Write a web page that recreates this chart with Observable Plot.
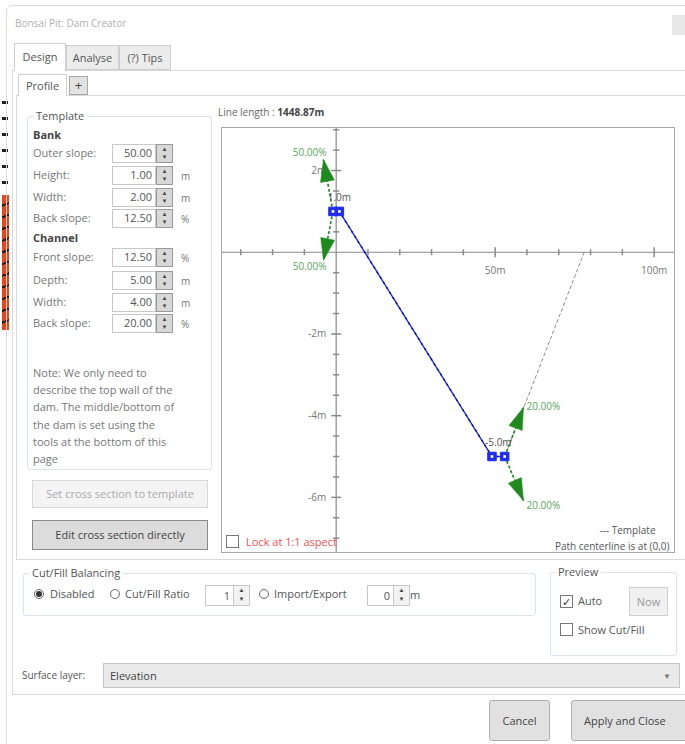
<!DOCTYPE html>
<html>
<head>
<meta charset="utf-8">
<script src="https://cdn.jsdelivr.net/npm/d3@7"></script>
<script src="https://cdn.jsdelivr.net/npm/@observablehq/plot@0.6"></script>
<style>
  html, body { margin:0; padding:0; background:#fff; }
  body { width:685px; height:744px; overflow:hidden; position:relative; font-family:"Open Sans","Noto Sans",sans-serif; font-size:11px; color:#555; }
  .abs { position:absolute; box-sizing:border-box; }
  .lbl { position:absolute; white-space:nowrap; line-height:14px; }
  .box { position:absolute; box-sizing:border-box; border:1px solid #c8c8c8; background:#fff; text-align:right; padding-right:3px; line-height:16px; color:#555; }
  .spin { position:absolute; box-sizing:border-box; border:1px solid #999; background:#d8d8d8; font-size:6px; line-height:8px; text-align:center; color:#444; }
  .fs { position:absolute; box-sizing:border-box; border:1px solid #dde3ea; border-radius:3px; }
  .legend { position:absolute; background:#fff; padding:0 3px; white-space:nowrap; line-height:14px; }
  .radio { position:absolute; width:10px; height:10px; border:1px solid #666; border-radius:50%; box-sizing:border-box; background:#fff; }
  .chk { position:absolute; width:13px; height:13px; border:1px solid #777; box-sizing:border-box; background:#fff; }
  .btn { position:absolute; box-sizing:border-box; border:1px solid #adadad; background:#e1e1e1; text-align:center; color:#444; }
</style>
</head>
<body>
<div id="root"></div>
<script>
// ---------------- data ----------------
const dialogTitle = "Bonsai Pit: Dam Creator";
const tabs = ["Design", "Analyse", "(?) Tips"];
const bankLabels = ["Outer slope:", "Height:", "Width:", "Back slope:"];
const bankValues = ["50.00", "1.00", "2.00", "12.50"];
const bankUnits = ["", "m", "m", "%"];
const channelLabels = ["Front slope:", "Depth:", "Width:", "Back slope:"];
const channelValues = ["12.50", "5.00", "4.00", "20.00"];
const channelUnits = ["%", "m", "m", "%"];
const noteLines = ["Note: We only need to", "describe the top wall of the", "dam. The middle/bottom of", "the dam is set using the", "tools at the bottom of this", "page"];
const lineLength = "1448.87m";

// cross-section profile (metres)
const pathX = [-1, 1, 49, 53];
const pathY = [1, 1, -5, -5];
const templateX = [53, 78];
const templateY = [-5, 0];
// slope handles
const handleX1 = [-1, -1, 53, 53];
const handleY1 = [1, 1, -5, -5];
const handleX2 = [-4, -4, 58.9, 58.9];
const handleY2 = [2.27, -0.2, -3.8, -6.08];
const handleText = ["50.00%", "50.00%", "20.00%", "20.00%"];
// point labels
const ptLabelX = [1, 51];
const ptLabelY = [1, -5];
const ptLabelText = ["1.0m", "-5.0m"];
// axes
const xTicks = [-30, -20, -10, 10, 20, 30, 40, 50, 60, 70, 80, 90, 100];
const xMajor = [50, 100];
const xTickLabels = ["50m", "100m"];
const yTicks = [-7, -6.5, -6, -5.5, -5, -4.5, -4, -3.5, -3, -2.5, -2, -1.5, -1, -0.5, 0.5, 1, 1.5, 2, 2.5, 3];
const yMajor = [2, -2, -4, -6];
const yTickLabels = ["2m", "-2m", "-4m", "-6m"];

// ---------------- dialog chrome ----------------
const root = document.getElementById("root");
function add(html){ root.insertAdjacentHTML("beforeend", html); }

// background app strip at left edge
add(`<div class="abs" style="left:2px;top:95px;width:6px;height:100px;background:repeating-linear-gradient(180deg,#fff 0 6px,#222 6px 9px,#fff 9px 16px);"></div>`);
add(`<div class="abs" style="left:2px;top:195px;width:7px;height:135px;background:repeating-linear-gradient(160deg,#e8451d 0 9px,#2a1a14 9px 11px);"></div>`);

// dialog frame
add(`<div class="abs" style="left:6px;top:5px;width:700px;height:760px;border:1px solid #dcdcdc;border-radius:6px 0 0 0;"></div>`);
add(`<div class="lbl" style="left:15px;top:16px;color:#b0b0b0;font-size:10px;">${dialogTitle}</div>`);
add(`<div class="abs" style="left:672px;top:15px;width:14px;height:20px;background:#e8e8e8;"></div>`);

// tab panel
add(`<div class="abs" style="left:12px;top:70px;width:690px;height:625px;border:1px solid #d9d9d9;"></div>`);
const tabLeft = [14, 66, 119], tabW = [52, 53, 52];
tabs.forEach((t,i)=>{
  const active = i===0;
  add(`<div class="abs" style="left:${tabLeft[i]}px;top:${active?43:45}px;width:${tabW[i]}px;height:${active?28:25}px;border:1px solid #cfcfcf;${active?'border-bottom:none;background:#fff;':'background:#ececec;'}text-align:center;line-height:${active?26:24}px;color:#555;">${t}</div>`);
});
// sub tabs
add(`<div class="abs" style="left:16px;top:95px;width:690px;height:465px;border:1px solid #d9d9d9;"></div>`);
add(`<div class="abs" style="left:18px;top:74px;width:49px;height:22px;border:1px solid #cfcfcf;border-bottom:none;background:#fff;text-align:center;line-height:21px;">Profile</div>`);
add(`<div class="abs" style="left:69px;top:76px;width:19px;height:19px;border:1px solid #a8a8a8;background:#e2e2e2;text-align:center;line-height:16px;font-size:13px;color:#444;">+</div>`);

// template group
add(`<div class="fs" style="left:27px;top:116px;width:185px;height:354px;"></div>`);
add(`<div class="legend" style="left:33px;top:109px;">Template</div>`);
add(`<div class="lbl" style="left:33px;top:128px;font-weight:bold;color:#444;">Bank</div>`);
add(`<div class="lbl" style="left:33px;top:231px;font-weight:bold;color:#444;">Channel</div>`);
function spinRow(label, value, unit, y){
  add(`<div class="lbl" style="left:33px;top:${y-7}px;color:#777;">${label}</div>`);
  add(`<div class="box" style="left:112px;top:${y-9}px;width:44px;height:19px;">${value}</div>`);
  add(`<div class="spin" style="left:156px;top:${y-9}px;width:17px;height:19px;">▲<br>▼</div>`);
  if (unit) add(`<div class="lbl" style="left:181px;top:${y-6}px;color:#777;font-size:10px;">${unit}</div>`);
}
const bankY = [153, 175, 197, 218];
const chanY = [257, 280, 302, 323];
bankLabels.forEach((l,i)=>spinRow(l, bankValues[i], bankUnits[i], bankY[i]));
channelLabels.forEach((l,i)=>spinRow(l, channelValues[i], channelUnits[i], chanY[i]));
noteLines.forEach((l,i)=>add(`<div class="lbl" style="left:33px;top:${366+i*17.2}px;color:#777;">${l}</div>`));

add(`<div class="btn" style="left:32px;top:480px;width:176px;height:28px;line-height:26px;background:#f4f4f4;border-color:#d8d8d8;color:#aaa;">Set cross section to template</div>`);
add(`<div class="btn" style="left:32px;top:520px;width:176px;height:30px;line-height:28px;background:#dcdcdc;border-color:#8a8a8a;color:#444;">Edit cross section directly</div>`);

// line length caption
add(`<div class="lbl" style="left:218px;top:105px;font-size:10px;color:#666;">Line length : <b style="color:#444;">${lineLength}</b></div>`);

// ---------------- chart ----------------
const W = 452, H = 424;
const xDomain = [-35.75, 106.4], yDomain = [-7.35, 3.03];
const kx = W/(xDomain[1]-xDomain[0]), ky = H/(yDomain[1]-yDomain[0]);
const vTick = {draw(c,s){const r=Math.sqrt(s/Math.PI); c.moveTo(0,-r); c.lineTo(0,r);}};
const hTick = {draw(c,s){const r=Math.sqrt(s/Math.PI); c.moveTo(-r,0); c.lineTo(r,0);}};
const head = {draw(c,s){const r=Math.sqrt(s/Math.PI); c.moveTo(0,0); c.lineTo(r*0.32,r); c.lineTo(-r*0.32,r); c.closePath();}};

const path = pathX.map((x,i)=>({x, y:pathY[i]}));
const template = templateX.map((x,i)=>({x, y:templateY[i]}));
const handles = handleX1.map((x1,i)=>({x1, y1:handleY1[i], x2:handleX2[i], y2:handleY2[i], text:handleText[i],
  angle: Math.atan2((handleX2[i]-x1)*kx, (handleY2[i]-handleY1[i])*ky)*180/Math.PI}));
const ptLabels = ptLabelX.map((x,i)=>({x, y:ptLabelY[i], text:ptLabelText[i]}));
const upLeft = handles.filter(d=>d.x2<d.x1 && d.y2>d.y1);
const downLeft = handles.filter(d=>d.x2<d.x1 && d.y2<d.y1);
const upRight = handles.filter(d=>d.x2>d.x1 && d.y2>d.y1);
const downRight = handles.filter(d=>d.x2>d.x1 && d.y2<d.y1);
const green = "#1e8a1e", greenText = "#5aa55a", blue = "#1f2cf0", axisCol = "#8a8a8a";

const chart = Plot.plot({
  width: W, height: H,
  margin: 0,
  x: {type:"linear", domain:xDomain, axis:null},
  y: {type:"linear", domain:yDomain, axis:null},
  style: {fontFamily:"'Open Sans','Noto Sans',sans-serif", fontSize:"10px", background:"transparent", overflow:"visible"},
  marks: [
    Plot.ruleY([0], {stroke:axisCol, strokeWidth:1.2}),
    Plot.ruleX([0], {stroke:axisCol, strokeWidth:1.2}),
    Plot.dot(xTicks.filter(d=>!xMajor.includes(d)), {x:d=>d, y:0, symbol:vTick, r:3, stroke:axisCol, fill:"none"}),
    Plot.dot(xMajor, {x:d=>d, y:0, symbol:vTick, r:5, stroke:axisCol, fill:"none"}),
    Plot.dot(yTicks.filter(d=>!yMajor.includes(d)), {x:0, y:d=>d, symbol:hTick, r:3, stroke:axisCol, fill:"none"}),
    Plot.dot(yMajor, {x:0, y:d=>d, symbol:hTick, r:5, stroke:axisCol, fill:"none"}),
    Plot.text(xMajor, {x:d=>d, y:0, text:(d,i)=>xTickLabels[i], dy:19, fill:"#777"}),
    Plot.text(yMajor, {x:0, y:d=>d, text:(d,i)=>yTickLabels[i], dx:-10, textAnchor:"end", fill:"#777"}),
    // template
    Plot.line(template, {x:"x", y:"y", stroke:"#8c8c8c", strokeWidth:1, strokeDasharray:"3,3"}),
    // profile path
    Plot.line(path, {x:"x", y:"y", stroke:blue, strokeWidth:1.4}),
    Plot.line(path, {x:"x", y:"y", stroke:"#000a9a", strokeWidth:1.4, strokeDasharray:"1,5"}),
    // slope handles
    Plot.link(handles, {x1:"x1", y1:"y1", x2:"x2", y2:"y2", stroke:green, strokeWidth:1.6, strokeDasharray:"3,2"}),
    Plot.dot(handles, {x:"x2", y:"y2", symbol:head, r:22, rotate:"angle", fill:green, stroke:green, strokeWidth:0.5}),
    Plot.text(upLeft, {x:"x2", y:"y2", text:"text", textAnchor:"end", dx:3, dy:-7, fill:greenText}),
    Plot.text(downLeft, {x:"x2", y:"y2", text:"text", textAnchor:"end", dx:3, dy:6, fill:greenText}),
    Plot.text(upRight, {x:"x2", y:"y2", text:"text", textAnchor:"start", dx:3, dy:-1, fill:greenText}),
    Plot.text(downRight, {x:"x2", y:"y2", text:"text", textAnchor:"start", dx:3, dy:5, fill:greenText}),
    // vertices
    Plot.dot(path, {x:"x", y:"y", symbol:"square", r:4.8, fill:blue, stroke:blue, strokeWidth:1}),
    Plot.dot(path, {x:"x", y:"y", symbol:"square", r:1.5, fill:"#ffffff"}),
    Plot.text(ptLabels, {x:"x", y:"y", text:"text", dy:-14, fill:"#555"}),
    // in-frame legend
    Plot.text(["--- Template"], {frameAnchor:"bottom-right", dx:-19, dy:-19, fill:"#555"}),
    Plot.text(["Path centerline is at (0,0)"], {frameAnchor:"bottom-right", dx:-5, dy:-3, fill:"#555"})
  ]
});
const wrap = document.createElement("div");
wrap.className = "abs";
wrap.style.cssText = "left:221px;top:127px;width:454px;height:426px;border:1px solid #a8a8a8;background:#fff;";
chart.style.position = "absolute"; chart.style.left = "0px"; chart.style.top = "0px";
wrap.appendChild(chart);
root.appendChild(wrap);
add(`<div class="chk" style="left:226px;top:535px;"></div>`);
add(`<div class="lbl" style="left:246px;top:535px;color:#f05050;">Lock at 1:1 aspect</div>`);

// ---------------- bottom controls ----------------
add(`<div class="fs" style="left:23px;top:573px;width:513px;height:43px;"></div>`);
add(`<div class="legend" style="left:29px;top:566px;">Cut/Fill Balancing</div>`);
add(`<div class="radio" style="left:34px;top:589px;"><div style="width:6px;height:6px;margin:1px;border-radius:50%;background:#333;"></div></div>`);
add(`<div class="lbl" style="left:50px;top:587px;">Disabled</div>`);
add(`<div class="radio" style="left:110px;top:589px;"></div>`);
add(`<div class="lbl" style="left:125px;top:587px;">Cut/Fill Ratio</div>`);
add(`<div class="box" style="left:205px;top:585px;width:29px;height:21px;line-height:19px;">1</div>`);
add(`<div class="spin" style="left:233px;top:585px;width:17px;height:21px;background:#f2f2f2;border-color:#c8c8c8;line-height:9px;">▲<br>▼</div>`);
add(`<div class="radio" style="left:259px;top:589px;"></div>`);
add(`<div class="lbl" style="left:274px;top:587px;">Import/Export</div>`);
add(`<div class="box" style="left:367px;top:585px;width:27px;height:21px;line-height:19px;">0</div>`);
add(`<div class="spin" style="left:393px;top:585px;width:17px;height:21px;background:#f2f2f2;border-color:#c8c8c8;line-height:9px;">▲<br>▼</div>`);
add(`<div class="lbl" style="left:410px;top:588px;">m</div>`);

add(`<div class="fs" style="left:550px;top:572px;width:127px;height:84px;"></div>`);
add(`<div class="legend" style="left:555px;top:565px;">Preview</div>`);
add(`<div class="chk" style="left:560px;top:595px;text-align:center;line-height:11px;font-size:11px;color:#333;">✓</div>`);
add(`<div class="lbl" style="left:578px;top:594px;">Auto</div>`);
add(`<div class="btn" style="left:629px;top:587px;width:39px;height:29px;line-height:27px;background:#f0f0f0;border-color:#cfcfcf;color:#999;">Now</div>`);
add(`<div class="chk" style="left:560px;top:623px;"></div>`);
add(`<div class="lbl" style="left:578px;top:623px;">Show Cut/Fill</div>`);

add(`<div class="lbl" style="left:22px;top:668px;font-size:10px;">Surface layer:</div>`);
add(`<div class="abs" style="left:103px;top:663px;width:577px;height:25px;border:1px solid #c4c4c4;background:#e9e9e9;line-height:23px;padding-left:6px;color:#444;">Elevation<span style="position:absolute;right:8px;font-size:8px;color:#777;">▼</span></div>`);

add(`<div class="btn" style="left:489px;top:700px;width:61px;height:41px;line-height:39px;border-radius:3px;">Cancel</div>`);
add(`<div class="btn" style="left:571px;top:700px;width:120px;height:41px;line-height:39px;border-radius:3px;text-align:left;padding-left:12px;">Apply and Close</div>`);
</script>
</body>
</html>
